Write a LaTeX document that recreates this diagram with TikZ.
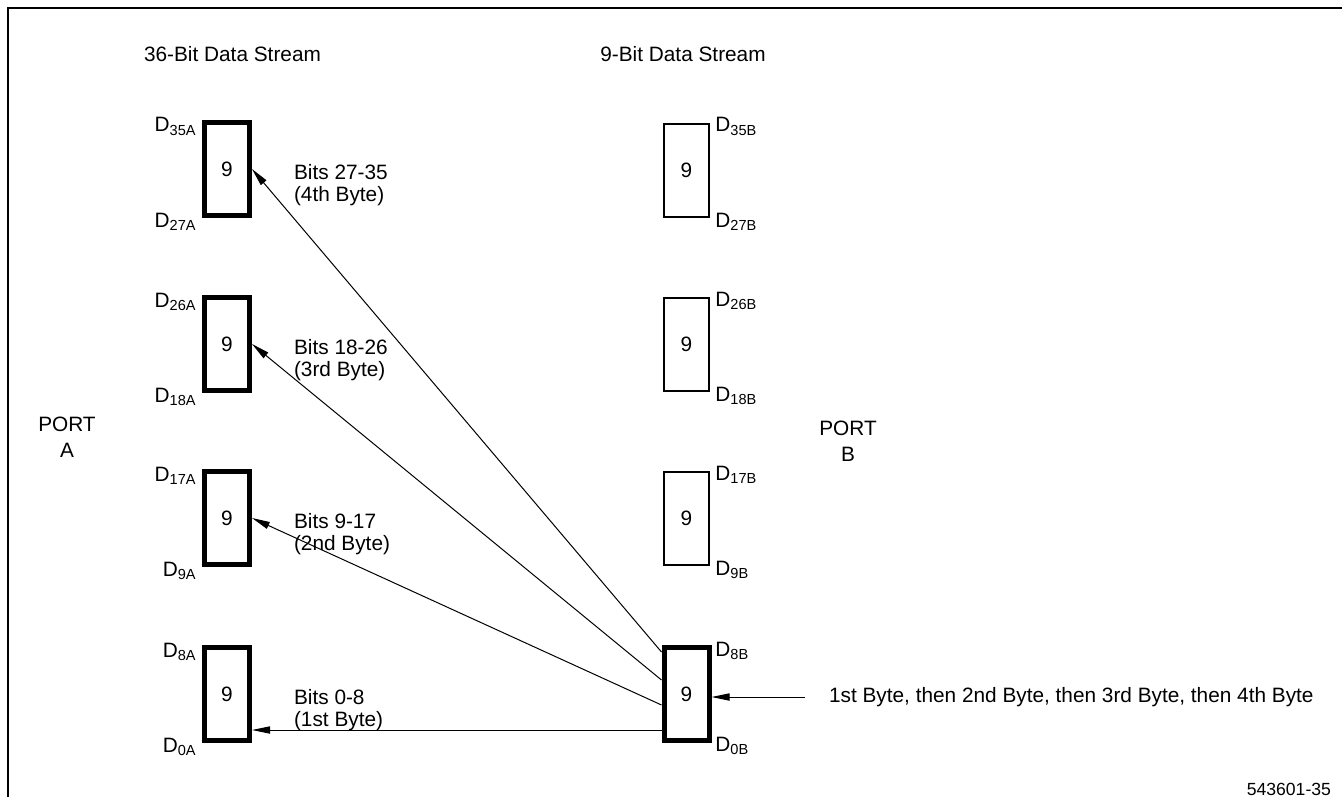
\documentclass[tikz,border=0pt]{standalone}
\usepackage{fontspec}
\setmainfont{Liberation Sans}
\usetikzlibrary{arrows.meta, calc, positioning}
\tikzset{
  boxa/.style={draw, line width=2.5pt, minimum width=22.5pt, minimum height=46.5pt, inner sep=0pt},
  boxb/.style={draw, line width=1pt, minimum width=22.5pt, minimum height=46.5pt, inner sep=0pt},
  dlab/.style={inner sep=0pt},
  arr/.style={-{Triangle[length=9pt,width=3.6pt]}, line width=0.5pt}}
\newcommand{\dn}[1]{D\textsubscript{#1}}

\begin{document}
\begin{tikzpicture}[x=0.5pt, y=-0.5pt, font=\fontsize{10.4}{11.2}\selectfont]
\useasboundingbox (0,0) rectangle (1342,797);
\draw [line width=1pt] (8,797) -- (8,8) -- (1342,8);
% headings
\node [anchor=base west] (ha) at (137,62) {36-Bit Data Stream};
\node [anchor=base] (hb) at (683,62) {9-Bit Data Stream};
\node [align=center] (pa) at (67,437) {PORT\\[2pt]A};
\node [align=center] (pb) at (848,441) {PORT\\[2pt]B};
% port A side
\node [boxa] (a1) at (227,169) {9};
\node [boxa] (a2) at (227,344) {9};
\node [boxa] (a3) at (227,518) {9};
\node [boxa] (a4) at (227,694) {9};
% port B side
\node [boxb] (b1) at (686.5,170) {9};
\node [boxb] (b2) at (686.5,344) {9};
\node [boxb] (b3) at (686.5,518) {9};
\node [boxa] (b4) at (686.5,694) {9};
\foreach \n/\t/\b in {a1/35A/27A, a2/26A/18A, a3/17A/9A, a4/8A/0A}{
  \node [dlab, anchor=base east] at ($(\n)+(-30,-37)$) {\dn{\t}};
  \node [dlab, anchor=base east] at ($(\n)+(-30,58)$) {\dn{\b}};}
\foreach \n/\t/\b in {b1/35B/27B, b2/26B/18B, b3/17B/9B, b4/8B/0B}{
  \node [dlab, anchor=base west] at ($(\n)+(28.5,-38)$) {\dn{\t}};
  \node [dlab, anchor=base west] at ($(\n)+(28.5,57)$) {\dn{\b}};}
% byte arrows
\coordinate (s1) at (661.5,730);
\coordinate (s2) at (661.5,705);
\coordinate (s3) at (661.5,680);
\coordinate (s4) at (661.5,652);
\draw [arr] (s4) -- (a1.east);
\draw [arr] (s3) -- (a2.east);
\draw [arr] (s2) -- (a3.east);
\draw [arr] (s1) -- (s1 -| a4.east);
\node [anchor=west, align=left] (t1) at ($(a1.east)+(35,16)$) {Bits 27-35\\(4th Byte)};
\node [anchor=west, align=left] (t2) at ($(a2.east)+(35,16)$) {Bits 18-26\\(3rd Byte)};
\node [anchor=west, align=left] (t3) at ($(a3.east)+(35,16)$) {Bits 9-17\\(2nd Byte)};
\node [anchor=west, align=left] (t4) at ($(a4.east)+(35,16)$) {Bits 0-8\\(1st Byte)};
% input
\coordinate (in) at (805,697);
\node [anchor=west] (feed) at (822,697) {1st Byte, then 2nd Byte, then 3rd Byte, then 4th Byte};
\draw [arr] (in) -- (in -| b4.east);
\node [anchor=base east, font=\fontsize{8.8}{10}\selectfont] (fig) at (1338,795) {543601-35};
\end{tikzpicture}
\end{document}
